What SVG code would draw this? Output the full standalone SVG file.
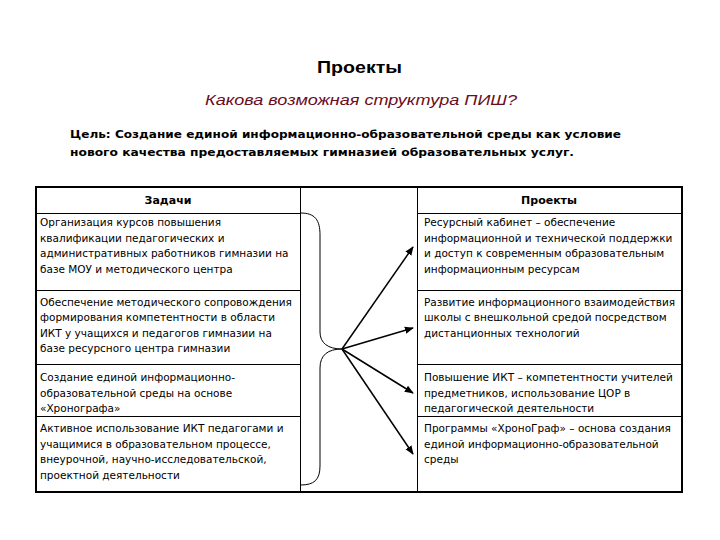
<svg xmlns="http://www.w3.org/2000/svg" width="720" height="540" viewBox="0 0 720 540">
<style>
.t{font-family:"Liberation Sans",Arial,sans-serif;fill:#000}
.b{font-family:"DejaVu Sans","Liberation Sans",sans-serif;font-size:10.5px;fill:#000}
.h{font-family:"DejaVu Sans","Liberation Sans",sans-serif;font-size:11px;font-weight:bold;fill:#000}
.ln{stroke:#000;stroke-width:1;fill:none}
.arr{stroke:#000;stroke-width:1.5;fill:none;marker-end:url(#ah)}
</style>
<defs>
<marker id="ah" viewBox="0 0 10 10" refX="9" refY="5" markerWidth="6" markerHeight="6" orient="auto" markerUnits="strokeWidth">
<path d="M0,1 L10,5 L0,9 Z" fill="#000"/>
</marker>
</defs>
<rect width="720" height="540" fill="#fff"/>
<g id="title">
<text class="t" x="317" y="73" font-size="16.5" font-weight="bold" textLength="85" lengthAdjust="spacingAndGlyphs">Проекты</text>
<text class="t" x="205" y="105" font-size="15.5" font-style="italic" textLength="312" lengthAdjust="spacingAndGlyphs" style="fill:#6a0d1c">Какова возможная структура ПИШ?</text>
</g>
<g id="goal">
<text class="h" x="70" y="138" font-size="12.5" textLength="551" lengthAdjust="spacingAndGlyphs">Цель: Создание единой информационно-образовательной среды как условие</text>
<text class="h" x="70" y="156" font-size="12.5" textLength="504" lengthAdjust="spacingAndGlyphs">нового качества предоставляемых гимназией образовательных услуг.</text>
</g>
<g id="table">
<rect x="36" y="187" width="646" height="305" fill="none" stroke="#000" stroke-width="2"/>
<line class="ln" x1="300.5" y1="187" x2="300.5" y2="492"/>
<line class="ln" x1="417.5" y1="187" x2="417.5" y2="492"/>
<path class="ln" d="M36,213.5 H300.5 M417.5,213.5 H682 M36,290.5 H300.5 M417.5,290.5 H682 M36,364.5 H300.5 M417.5,364.5 H682 M36,416.5 H300.5 M417.5,416.5 H682"/>
</g>
<g id="head-tasks"><text class="h" x="168" y="204" text-anchor="middle">Задачи</text></g>
<g id="head-projects"><text class="h" x="549" y="204" text-anchor="middle">Проекты</text></g>
<g id="task1">
<text class="b" x="40" y="226">Организация курсов повышения</text>
<text class="b" x="40" y="241.5">квалификации педагогических и</text>
<text class="b" x="40" y="257">административных работников гимназии на</text>
<text class="b" x="40" y="272.5">базе МОУ и методического центра</text>
</g>
<g id="task2">
<text class="b" x="40" y="305.5">Обеспечение методического сопровождения</text>
<text class="b" x="40" y="321">формирования компетентности в области</text>
<text class="b" x="40" y="336.5">ИКТ у учащихся и педагогов гимназии на</text>
<text class="b" x="40" y="352">базе ресурсного центра гимназии</text>
</g>
<g id="task3">
<text class="b" x="40" y="381">Создание единой информационно-</text>
<text class="b" x="40" y="396.5">образовательной среды на основе</text>
<text class="b" x="40" y="412">«Хронографа»</text>
</g>
<g id="task4">
<text class="b" x="40" y="432">Активное использование ИКТ педагогами и</text>
<text class="b" x="40" y="447.5">учащимися в образовательном процессе,</text>
<text class="b" x="40" y="463">внеурочной, научно-исследовательской,</text>
<text class="b" x="40" y="478.5">проектной деятельности</text>
</g>
<g id="proj1">
<text class="b" x="424" y="226">Ресурсный кабинет – обеспечение</text>
<text class="b" x="424" y="241.5">информационной и технической поддержки</text>
<text class="b" x="424" y="257">и доступ к современным образовательным</text>
<text class="b" x="424" y="272.5">информационным ресурсам</text>
</g>
<g id="proj2">
<text class="b" x="424" y="305.5">Развитие информационного взаимодействия</text>
<text class="b" x="424" y="321">школы с внешкольной средой посредством</text>
<text class="b" x="424" y="336.5">дистанционных технологий</text>
</g>
<g id="proj3">
<text class="b" x="424" y="381">Повышение ИКТ – компетентности учителей</text>
<text class="b" x="424" y="396.5">предметников, использование ЦОР в</text>
<text class="b" x="424" y="412">педагогической деятельности</text>
</g>
<g id="proj4">
<text class="b" x="424" y="432">Программы «ХроноГраф» – основа создания</text>
<text class="b" x="424" y="447.5">единой информационно-образовательной</text>
<text class="b" x="424" y="463">среды</text>
</g>
<g id="connectors">
<path class="ln" d="M300.5,213 C315,213 320,220 320,235 L320,332 C320,343 328,349 342,349 C328,349 320,355 320,368 L320,466 C320,480 314,485 300.5,485"/>
<line class="arr" x1="342" y1="349" x2="413" y2="247"/>
<line class="arr" x1="342" y1="349" x2="413" y2="328"/>
<line class="arr" x1="342" y1="349" x2="413" y2="393"/>
<line class="arr" x1="342" y1="349" x2="413" y2="454"/>
</g>
</svg>
